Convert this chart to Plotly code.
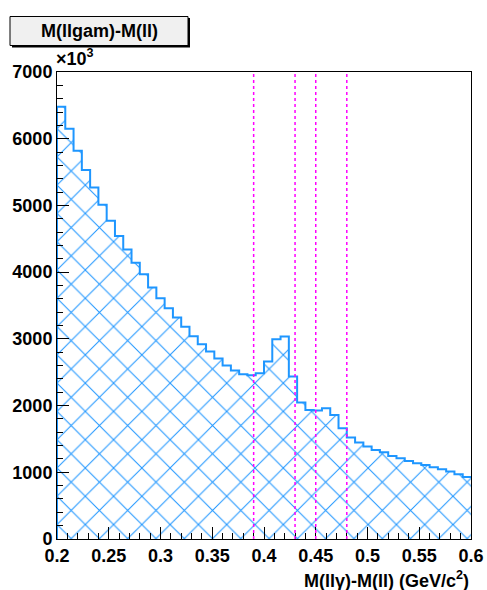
import numpy as np
import plotly.graph_objects as go

# ---- data ----
x_min, x_max, n_bins = 0.2, 0.6, 50
counts = [6480, 6150, 5820, 5530, 5270, 5010, 4770, 4540, 4340, 4140,
          3970, 3770, 3610, 3460, 3320, 3180, 3040, 2920, 2810, 2705,
          2600, 2525, 2470, 2455, 2485, 2660, 2995, 3035, 2435, 2045,
          1935, 1925, 1960, 1860, 1660, 1520, 1445, 1385, 1335, 1300,
          1245, 1210, 1170, 1135, 1110, 1075, 1045, 1010, 970, 930]
cut_lines = [0.39, 0.43, 0.45, 0.48]
x_ticks = [0.2, 0.25, 0.3, 0.35, 0.4, 0.45, 0.5, 0.55, 0.6]
x_ticktext = ["0.2", "0.25", "0.3", "0.35", "0.4", "0.45", "0.5", "0.55", "0.6"]
y_ticks = [0, 1000, 2000, 3000, 4000, 5000, 6000, 7000]
title_text = "M(llgam)-M(ll)"
x_title = "M(llγ)-M(ll) (GeV/c<sup>2</sup>)"

edges = np.linspace(x_min, x_max, n_bins + 1)
xs = [x_min] + list(edges[:-1]) + [x_max]
ys = [0] + counts + [counts[-1]]

blue = "rgb(30,150,255)"
FONT = "Liberation Sans"

fig = go.Figure()
fig.add_trace(go.Scatter(
    x=xs, y=ys, mode="lines", line=dict(shape="hv", color=blue, width=2),
    fill="tozeroy", fillcolor="rgba(0,0,0,0)",
    fillpattern=dict(shape="x", fgcolor=blue, fgopacity=1, bgcolor="white",
                     size=20, solidity=0.1),
    showlegend=False, hoverinfo="skip"))

shapes = []
for c in cut_lines:
    shapes.append(dict(type="line", xref="x", yref="paper", x0=c, x1=c, y0=0, y1=1,
                       line=dict(color="#ff00ff", width=1.5, dash="3px,3px")))

# title box (paper coordinates relative to plot area 57..471 x, 72..539 y)
def px(xp):
    return (xp - 57) / 414.0

def py(yp):
    return (539 - yp) / 467.0

shapes.append(dict(type="rect", xref="paper", yref="paper",
                   x0=px(12), x1=px(190), y0=py(47.5), y1=py(18),
                   fillcolor="black", line=dict(width=0), layer="above"))
shapes.append(dict(type="rect", xref="paper", yref="paper",
                   x0=px(10), x1=px(188), y0=py(45.5), y1=py(16.5),
                   fillcolor="#f0f0f0", line=dict(color="black", width=1), layer="above"))

annotations = [
    dict(text="<b>" + title_text + "</b>", xref="paper", yref="paper",
         x=px(99), y=py(31), xanchor="center", yanchor="middle", showarrow=False,
         font=dict(family=FONT, size=18, color="black")),
    dict(text="<b>×10<sup>3</sup></b>", xref="paper", yref="paper",
         x=px(54), y=py(71), xanchor="left", yanchor="bottom", showarrow=False,
         font=dict(family=FONT, size=18, color="black")),
    dict(text="<b>" + x_title + "</b>", xref="paper", yref="paper",
         x=1, y=py(579), xanchor="right", yanchor="middle", showarrow=False,
         font=dict(family=FONT, size=18, color="black")),
]

fig.update_layout(
    width=487, height=590, autosize=False,
    margin=dict(l=57, r=16, t=72, b=51, pad=0),
    paper_bgcolor="white", plot_bgcolor="white",
    shapes=shapes, annotations=annotations,
    xaxis=dict(range=[x_min, x_max], tickvals=x_ticks, ticktext=x_ticktext,
               automargin=False,
               ticks="inside", ticklen=12, tickcolor="black", tickwidth=1,
               minor=dict(dtick=0.01, tick0=0.2, ticks="inside", ticklen=6, tickcolor="black"),
               showline=True, linecolor="black", linewidth=1, mirror=True,
               showgrid=False, zeroline=False,
               tickfont=dict(family=FONT, size=18, color="black", weight="bold")),
    yaxis=dict(range=[0, 7000], tickvals=y_ticks, automargin=False,
               ticks="inside", ticklen=12, tickcolor="black", tickwidth=1,
               minor=dict(dtick=200, tick0=0, ticks="inside", ticklen=6, tickcolor="black"),
               showline=True, linecolor="black", linewidth=1, mirror=True,
               showgrid=False, zeroline=False,
               tickfont=dict(family=FONT, size=18, color="black", weight="bold")),
)

fig.write_html("out.html")
